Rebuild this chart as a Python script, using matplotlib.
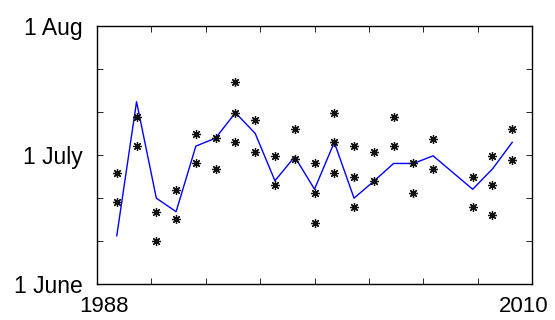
import matplotlib
matplotlib.use("Agg")
import matplotlib.pyplot as plt
import matplotlib.transforms as mtransforms
import numpy as np

plt.rcParams['font.family'] = ['Liberation Sans', 'DejaVu Sans']

# Observations: (year, day since 1 June)
obs_years = [1989, 1989, 1990, 1990, 1991, 1991, 1992, 1992, 1993, 1993,
             1994, 1994, 1995, 1995, 1995, 1996, 1996, 1997, 1997, 1998, 1998,
             1999, 1999, 1999, 2000, 2000, 2000, 2001, 2001, 2001, 2002, 2002,
             2003, 2003, 2004, 2004, 2005, 2005, 2007, 2007, 2008, 2008, 2008,
             2009, 2009]
obs_days = [26.2, 19.3, 39.5, 32.6, 17.0, 10.1, 22.2, 15.3, 35.5, 28.5,
            34.5, 27.3, 47.7, 40.5, 33.5, 38.7, 31.2, 30.3, 23.3, 36.6, 29.6,
            28.5, 21.4, 14.4, 40.5, 33.5, 26.2, 32.6, 25.4, 18.3, 31.2, 24.3,
            39.6, 32.6, 28.5, 21.4, 34.4, 27.3, 25.4, 18.3, 30.3, 23.3, 16.2,
            36.6, 29.4]

# Line series
line_years = [1989, 1990, 1991, 1992, 1993, 1994, 1995, 1996, 1997, 1998,
              1999, 2000, 2001, 2002, 2003, 2004, 2005, 2007, 2008, 2009]
line_days = [11.4, 43.1, 20.3, 17.1, 32.6, 34.5, 40.5, 35.6, 24.4, 30.1,
             22.4, 33.5, 20.3, 24.3, 28.5, 28.5, 30.3, 22.4, 27.2, 33.5]

ytick_labels = ['1 June', '', '', '1 July', '', '', '1 Aug']
xtick_labels = ['1988', '', '', '', '', '', '', '', '2010']

fig = plt.figure(figsize=(5.55, 3.2), dpi=100)
ax = fig.add_axes([97/555, 1-284/320, (532-97)/555, (284-26)/320])

ax.plot(line_years, line_days, color='#0000ff', lw=1.0, zorder=2)
ax.plot(obs_years, obs_days, linestyle='none', marker=(8, 2, 0),
        markersize=6.5, markeredgewidth=0.9, color='#111111', zorder=3)

ax.set_xlim(1988, 2010)
ax.set_ylim(0, 61)
ax.set_xticks(np.linspace(1988, 2010, 9))
ax.set_xticklabels(xtick_labels)
ax.set_yticks(np.linspace(0, 61, 7))
ax.set_yticklabels(ytick_labels)
ax.tick_params(direction='in', length=4, width=0.6, top=True, right=True,
               labelsize=16.5, pad=10, color='black')
ax.tick_params(axis='x', pad=9, labelsize=16)
for s in ax.spines.values():
    s.set_linewidth(1.0)
    s.set_color('black')

# nudge the end labels inward as in the reference
xl = ax.get_xticklabels()
xl[0].set_transform(xl[0].get_transform() +
                    mtransforms.ScaledTranslation(7/100, 0, fig.dpi_scale_trans))
xl[-1].set_transform(xl[-1].get_transform() +
                     mtransforms.ScaledTranslation(-8/100, 0, fig.dpi_scale_trans))

fig.savefig('out.png', dpi=100)
